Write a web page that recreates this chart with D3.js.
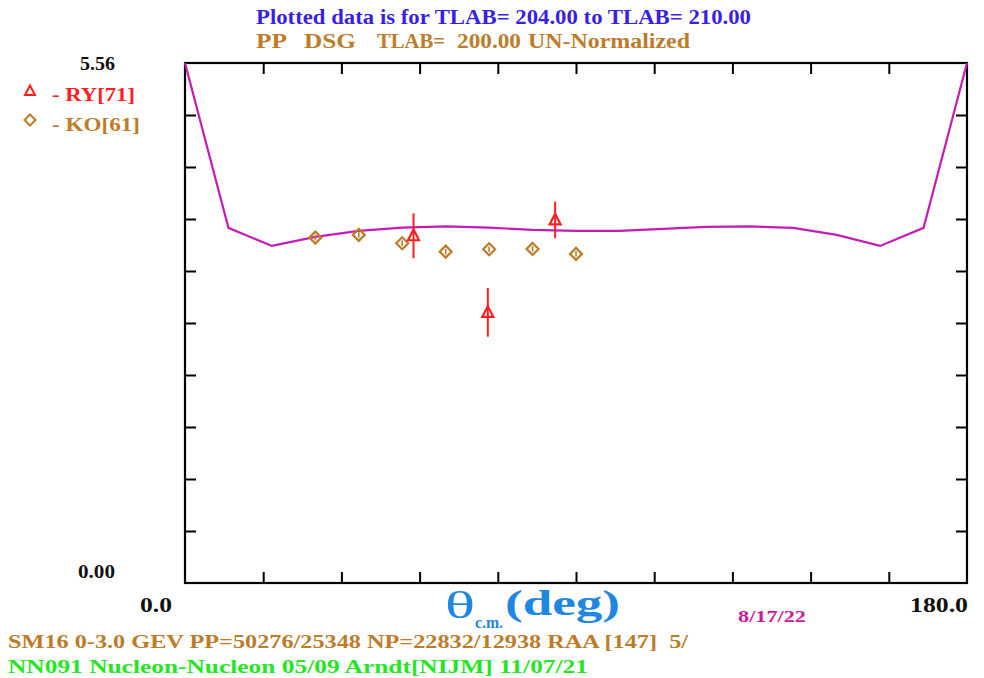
<!DOCTYPE html>
<html>
<head>
<meta charset="utf-8">
<script src="https://cdn.jsdelivr.net/npm/d3@7"></script>
<style>
  html, body { margin: 0; padding: 0; background: #fff; }
  svg text { font-family: "Liberation Serif", "DejaVu Serif", serif; font-weight: bold; white-space: pre; }
</style>
</head>
<body>
<svg id="chart" width="984" height="678"></svg>
<script>
// Angular range and cross-section range (mb/sr)
const xDomain = [0, 180];
const yDomain = [0, 5.56];
const xTickValues = [0, 18, 36, 54, 72, 90, 108, 126, 144, 162, 180];
const yTickValues = [0, 0.556, 1.112, 1.668, 2.224, 2.78, 3.336, 3.892, 4.448, 5.004, 5.56];
const xTickLabels = ["0.0", "180.0"];
const yTickLabels = ["0.00", "5.56"];

// Phase-shift solution curve (SM16) at TLAB = 200 MeV
const curveAngle = [0, 10, 20, 30, 40, 50, 60, 70, 80, 90, 100, 110, 120, 130, 140, 150, 160, 170, 180];
const curveValue = [5.56, 3.797, 3.604, 3.700, 3.765, 3.800, 3.813, 3.800, 3.775, 3.765, 3.765, 3.786, 3.807, 3.813, 3.797, 3.722, 3.604, 3.797, 5.56];

// RY[71] measurements
const ryAngle = [52.6, 69.7, 85.2];
const ryValue = [3.713, 2.894, 3.882];
const ryError = [0.24, 0.26, 0.196];

// KO[61] measurements
const koAngle = [30, 40, 50, 60, 70, 80, 90];
const koValue = [3.693, 3.722, 3.633, 3.543, 3.569, 3.572, 3.519];
const koError = [0.03, 0.03, 0.03, 0.03, 0.03, 0.03, 0.03];

const svg = d3.select("#chart");
const plotLeft = 185, plotRight = 967, plotTop = 63, plotBottom = 583;

const x = d3.scaleLinear().domain(xDomain).range([plotLeft, plotRight]);
const y = d3.scaleLinear().domain(yDomain).range([plotBottom, plotTop]);

const RED = "#ff1f1f", BROWN = "#bc7c2a", MAGENTA = "#c61cb6";

// Tick marks on all four sides, pointing inward
const tickLen = 11;
const innerX = xTickValues.slice(1, -1);
const innerY = yTickValues.slice(1, -1);
function styleTicks(g) {
  g.select(".domain").remove();
  g.selectAll("line").attr("stroke", "#000").attr("stroke-width", 2);
}
svg.append("g").attr("transform", `translate(0,${plotBottom})`)
  .call(d3.axisBottom(x).tickValues(innerX).tickSize(-tickLen).tickFormat(""))
  .call(styleTicks);
svg.append("g").attr("transform", `translate(0,${plotTop})`)
  .call(d3.axisTop(x).tickValues(innerX).tickSize(-tickLen).tickFormat(""))
  .call(styleTicks);
svg.append("g").attr("transform", `translate(${plotLeft},0)`)
  .call(d3.axisLeft(y).tickValues(innerY).tickSize(-tickLen).tickFormat(""))
  .call(styleTicks);
svg.append("g").attr("transform", `translate(${plotRight},0)`)
  .call(d3.axisRight(y).tickValues(innerY).tickSize(-tickLen).tickFormat(""))
  .call(styleTicks);

// Frame
svg.append("rect")
  .attr("x", x(xDomain[0])).attr("y", y(yDomain[1]))
  .attr("width", x(xDomain[1]) - x(xDomain[0]))
  .attr("height", y(yDomain[0]) - y(yDomain[1]))
  .attr("fill", "none").attr("stroke", "#000").attr("stroke-width", 2.2);

// Curve
const curvePts = curveAngle.map((a, i) => [a, curveValue[i]]);
svg.append("path")
  .datum(curvePts)
  .attr("d", d3.line().x(d => x(d[0])).y(d => y(d[1])))
  .attr("fill", "none").attr("stroke", MAGENTA).attr("stroke-width", 2.2);

// KO[61] diamonds with error bars
const ko = koAngle.map((a, i) => ({ a, v: koValue[i], e: koError[i] }));
const gKo = svg.append("g");
gKo.selectAll("line").data(ko).join("line")
  .attr("x1", d => x(d.a)).attr("x2", d => x(d.a))
  .attr("y1", d => y(d.v + d.e)).attr("y2", d => y(d.v - d.e))
  .attr("stroke", BROWN).attr("stroke-width", 1.6);
const diamond = r => `M0,${-r}L${r},0L0,${r}L${-r},0Z`;
gKo.selectAll("path").data(ko).join("path")
  .attr("transform", d => `translate(${x(d.a)},${y(d.v)})`)
  .attr("d", diamond(6))
  .attr("fill", "none").attr("stroke", BROWN).attr("stroke-width", 2.2);

// RY[71] triangles with error bars
const ry = ryAngle.map((a, i) => ({ a, v: ryValue[i], e: ryError[i] }));
const gRy = svg.append("g");
gRy.selectAll("line").data(ry).join("line")
  .attr("x1", d => x(d.a)).attr("x2", d => x(d.a))
  .attr("y1", d => y(d.v + d.e)).attr("y2", d => y(d.v - d.e))
  .attr("stroke", RED).attr("stroke-width", 2);
const tri = s => `M0,${-s * 0.62}L${s * 0.55},${s * 0.45}L${-s * 0.55},${s * 0.45}Z`;
gRy.selectAll("path").data(ry).join("path")
  .attr("transform", d => `translate(${x(d.a)},${y(d.v)})`)
  .attr("d", tri(10))
  .attr("fill", "none").attr("stroke", RED).attr("stroke-width", 2.2);

// Axis end labels
svg.append("text").attr("x", 80).attr("y", 70).attr("font-size", 19).attr("fill", "#111")
  .attr("textLength", 35).attr("lengthAdjust", "spacingAndGlyphs").text(yTickLabels[1]);
svg.append("text").attr("x", 78).attr("y", 578).attr("font-size", 19).attr("fill", "#111")
  .attr("textLength", 37).attr("lengthAdjust", "spacingAndGlyphs").text(yTickLabels[0]);
svg.append("text").attr("x", 140).attr("y", 612).attr("font-size", 21).attr("fill", "#111")
  .attr("textLength", 32).attr("lengthAdjust", "spacingAndGlyphs").text(xTickLabels[0]);
svg.append("text").attr("x", 910).attr("y", 612).attr("font-size", 21).attr("fill", "#111")
  .attr("textLength", 58).attr("lengthAdjust", "spacingAndGlyphs").text(xTickLabels[1]);

// Legend
svg.append("path").attr("transform", "translate(30,91)").attr("d", tri(9))
  .attr("fill", "none").attr("stroke", RED).attr("stroke-width", 2);
svg.append("text").attr("x", 52).attr("y", 101).attr("font-size", 19).attr("fill", RED)
  .attr("textLength", 83).attr("lengthAdjust", "spacingAndGlyphs").text("- RY[71]");
svg.append("path").attr("transform", "translate(30,120)").attr("d", diamond(5.5))
  .attr("fill", "none").attr("stroke", BROWN).attr("stroke-width", 2);
svg.append("text").attr("x", 52).attr("y", 131).attr("font-size", 19).attr("fill", BROWN)
  .attr("textLength", 88).attr("lengthAdjust", "spacingAndGlyphs").text("- KO[61]");

// Titles
svg.append("text").attr("x", 256).attr("y", 24).attr("font-size", 20).attr("fill", "#3a1fe3")
  .attr("textLength", 495).attr("lengthAdjust", "spacingAndGlyphs")
  .text("Plotted data is for TLAB= 204.00 to TLAB= 210.00");
const sub = [["PP", 256, 31], ["DSG", 304, 52], ["TLAB=", 377, 68], ["200.00", 457, 64], ["UN-Normalized", 528, 162]];
svg.append("g").selectAll("text").data(sub).join("text")
  .attr("x", d => d[1]).attr("y", 48).attr("font-size", 20).attr("fill", BROWN)
  .attr("textLength", d => d[2]).attr("lengthAdjust", "spacingAndGlyphs").text(d => d[0]);

// X axis title
const axisBlue = "#1f86e2";
svg.append("text").attr("x", 445).attr("y", 618).attr("font-size", 38)
  .style("font-weight", "normal").attr("fill", axisBlue)
  .attr("textLength", 30).attr("lengthAdjust", "spacingAndGlyphs").text("θ");
svg.append("text").attr("x", 475).attr("y", 628).attr("font-size", 16).attr("fill", axisBlue)
  .attr("textLength", 28).attr("lengthAdjust", "spacingAndGlyphs").text("c.m.");
svg.append("text").attr("x", 505).attr("y", 615).attr("font-size", 36).attr("fill", axisBlue)
  .attr("textLength", 115).attr("lengthAdjust", "spacingAndGlyphs").text("(deg)");

// Date stamp
svg.append("text").attr("x", 738).attr("y", 622).attr("font-size", 17).attr("fill", "#cc1a9c")
  .attr("textLength", 68).attr("lengthAdjust", "spacingAndGlyphs").text("8/17/22");

// Footer lines
svg.append("text").attr("x", 8).attr("y", 648).attr("font-size", 18).attr("fill", BROWN)
  .attr("textLength", 680).attr("lengthAdjust", "spacingAndGlyphs")
  .text("SM16 0-3.0 GEV PP=50276/25348 NP=22832/12938 RAA [147]  5/");
svg.append("text").attr("x", 8).attr("y", 673).attr("font-size", 18).attr("fill", "#25e625")
  .attr("textLength", 580).attr("lengthAdjust", "spacingAndGlyphs")
  .text("NN091 Nucleon-Nucleon 05/09 Arndt[NIJM] 11/07/21");
</script>
</body>
</html>
